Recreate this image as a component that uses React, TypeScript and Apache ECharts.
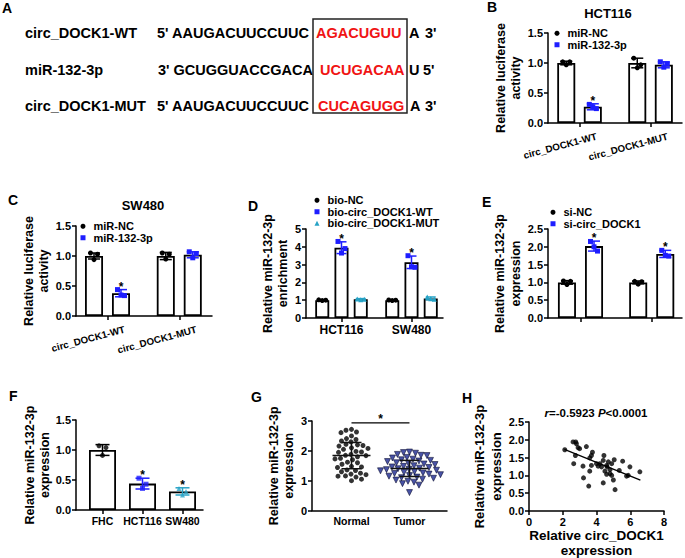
import React, { useEffect, useRef } from 'react';
import * as echarts from 'echarts';

const FONT = "Arial, 'Liberation Sans', Helvetica, sans-serif";
const BLACK = '#000000';
const BLUE = '#1e1eff';
const TEAL = '#27a3c6';
const NAVY = '#1c2890';
const RED = '#f01414';

// ---------- Panel A (sequence alignment) ----------
const A_ROWS = ['circ_DOCK1-WT', 'miR-132-3p', 'circ_DOCK1-MUT'];
const A_LEFT = ["5' AAUGACUUCCUUC", "3' GCUGGUACCGACA", "5' AAUGACUUCCUUC"];
const A_SITE = ['AGACUGUU', 'UCUGACAA', 'CUCAGUGG'];
const A_TAIL = ['A', 'U', 'A'];
const A_END = ["3'", "5'", "3'"];

// ---------- Panel B (HCT116 luciferase) ----------
const B_GROUPS = ['circ_DOCK1-WT', 'circ_DOCK1-MUT'];
const B_NC_MEAN = [1.0, 1.0];
const B_NC_SD = [0.03, 0.08];
const B_NC_PTS = [[1.02, 1.02, 0.97], [1.08, 0.97, 0.92]];
const B_MIR_MEAN = [0.27, 0.97];
const B_MIR_SD = [0.05, 0.05];
const B_MIR_PTS = [[0.31, 0.24, 0.27], [1.02, 0.98, 0.93]];
const B_MIR_SIG = [true, false];

// ---------- Panel C (SW480 luciferase) ----------
const C_NC_MEAN = [1.0, 1.0];
const C_NC_SD = [0.05, 0.06];
const C_NC_PTS = [[1.05, 1.03, 0.94], [1.05, 1.03, 0.95]];
const C_MIR_MEAN = [0.38, 1.02];
const C_MIR_SD = [0.06, 0.05];
const C_MIR_PTS = [[0.44, 0.34, 0.35], [1.07, 1.04, 0.97]];
const C_MIR_SIG = [true, false];

// ---------- Panel D (RNA pull-down) ----------
const D_GROUPS = ['HCT116', 'SW480'];
const D_NC_MEAN = [1.0, 1.0];
const D_NC_SD = [0.03, 0.03];
const D_NC_PTS = [[1.02, 1.0, 0.98], [1.01, 1.0, 0.98]];
const D_WT_MEAN = [3.95, 3.13];
const D_WT_SD = [0.33, 0.35];
const D_WT_PTS = [[4.3, 3.9, 3.65], [3.5, 2.85, 2.88]];
const D_WT_SIG = [true, true];
const D_MUT_MEAN = [1.05, 1.1];
const D_MUT_SD = [0.04, 0.08];
const D_MUT_PTS = [[1.07, 1.05, 1.03], [1.18, 1.05, 1.08]];

// ---------- Panel E (si-circ_DOCK1) ----------
const E_NC_MEAN = [1.0, 1.0];
const E_NC_SD = [0.05, 0.04];
const E_NC_PTS = [[1.04, 1.03, 0.94], [1.03, 1.02, 0.95]];
const E_SI_MEAN = [2.02, 1.8];
const E_SI_SD = [0.14, 0.1];
const E_SI_PTS = [[2.15, 1.88, 2.0], [1.9, 1.74, 1.76]];
const E_SI_SIG = [true, true];

// ---------- Panel F (cell lines) ----------
const F_GROUPS = ['FHC', 'HCT116', 'SW480'];
const F_MEAN = [1.0, 0.44, 0.31];
const F_SD = [0.09, 0.09, 0.06];
const F_PTS = [[1.07, 1.04, 0.91], [0.53, 0.43, 0.36], [0.36, 0.31, 0.25]];
const F_SIG = [false, true, true];

// ---------- Panel G (tissues) ----------
const G_GROUPS = ['Normal', 'Tumor'];
const G_NORMAL = [2.72, 2.69, 2.63, 2.61, 2.5, 2.41, 2.38, 2.33, 2.3, 2.22, 2.2, 2.18, 2.16, 2.1, 2.08,
  2.05, 1.98, 1.96, 1.95, 1.88, 1.85, 1.84, 1.8, 1.75, 1.73, 1.7, 1.62, 1.6, 1.55, 1.48, 1.46, 1.44,
  1.36, 1.34, 1.3, 1.25, 1.22, 1.2, 1.16, 1.15, 1.12, 1.05, 1.0];
const G_TUMOR = [1.96, 1.94, 1.92, 1.88, 1.85, 1.84, 1.78, 1.76, 1.72, 1.7, 1.68, 1.66, 1.64, 1.6, 1.58,
  1.56, 1.54, 1.5, 1.48, 1.46, 1.44, 1.42, 1.4, 1.38, 1.37, 1.35, 1.33, 1.3, 1.28, 1.26, 1.24, 1.22,
  1.2, 1.17, 1.15, 1.12, 1.1, 1.08, 1.05, 1.02, 0.98, 0.95, 0.9, 0.85, 0.6];
const G_MEAN = [1.84, 1.41];
const G_SD = [0.44, 0.27];
const G_SIG_Y = 2.94;

// ---------- Panel H (correlation) ----------
const H_X = [2.12, 2.61, 2.77, 2.81, 2.91, 3.0, 3.4, 2.65, 2.75, 3.76, 3.7, 3.6, 3.2, 3.23, 3.6, 3.54, 3.7,
  4.44, 4.2, 4.3, 4.4, 4.6, 4.63, 4.8, 4.9, 5.05, 4.5, 4.6, 4.8, 4.4, 5.0, 5.1, 5.35, 5.55, 5.88, 5.98,
  5.78, 6.57, 4.0, 4.1, 4.7, 4.9];
const H_Y = [1.72, 1.94, 1.94, 1.89, 1.78, 1.75, 1.81, 1.33, 1.56, 1.65, 1.56, 1.49, 1.26, 0.93, 1.12, 0.7,
  1.28, 1.56, 1.33, 1.24, 1.42, 1.28, 1.24, 1.16, 1.33, 1.44, 1.12, 1.03, 1.05, 0.79, 0.87, 0.6, 1.14,
  1.4, 1.0, 1.24, 0.98, 1.1, 1.33, 1.26, 1.38, 1.0];
const H_FIT_X = [2.1, 6.6];
const H_FIT_Y = [1.73, 0.87];

// ---------- layout ----------
const JIT = [-3.5, 3.5, 0];

type SDef = {
  name: string; color: string; symbol: string; size: number;
  mean: number[]; sd: number[]; pts: number[][]; sig?: boolean[];
};

const txtStyle = (text: string, size: number, color = BLACK, align = 'left', extra: any = {}) => ({
  text, fill: color, fontSize: size, fontWeight: 'bold', fontFamily: FONT,
  align, textAlign: align, verticalAlign: 'middle', textVerticalAlign: 'middle', ...extra,
});

const gtext = (x: number, y: number, text: string, size: number, color = BLACK, align = 'left', extra: any = {}) => ({
  type: 'text', x, y, silent: true, style: txtStyle(text, size, color, align, extra),
});

function errRender(color: string, cap: number) {
  return (params: any, api: any) => {
    const x = api.value(0), lo = api.value(1), hi = api.value(2), sig = api.value(3);
    const t = api.coord([x, hi]);
    const b = api.coord([x, lo]);
    const st = { stroke: color, lineWidth: 1.5 };
    const children: any[] = [
      { type: 'line', shape: { x1: t[0], y1: t[1], x2: b[0], y2: b[1] }, style: st },
      { type: 'line', shape: { x1: t[0] - cap, y1: t[1], x2: t[0] + cap, y2: t[1] }, style: st },
      { type: 'line', shape: { x1: b[0] - cap, y1: b[1], x2: b[0] + cap, y2: b[1] }, style: st },
    ];
    if (sig) children.push({ type: 'text', x: t[0], y: t[1] - 3, style: txtStyle('*', 12, BLACK, 'center') });
    return { type: 'group', children };
  };
}

function barPanel(ax: number, tag: string, defs: SDef[], step: number, barW: number, cap: number, ppu: number) {
  const n = defs.length;
  const xs = (g: number, s: number) => g + 1 + (s - (n - 1) / 2) * step;
  const barData: number[][] = [];
  defs.forEach((d, s) => d.mean.forEach((m, g) => barData.push([xs(g, s), m])));
  const series: any[] = [{
    type: 'bar', name: tag + '-bars', xAxisIndex: ax, yAxisIndex: ax, data: barData, barWidth: barW,
    itemStyle: { color: '#ffffff', borderColor: BLACK, borderWidth: 1.8 }, z: 1, silent: true,
  }];
  defs.forEach((d, s) => {
    const pts: number[][] = [];
    d.pts.forEach((arr, g) => arr.forEach((v, k) => pts.push([xs(g, s) + JIT[k] / ppu, v])));
    series.push({
      type: 'scatter', name: d.name, xAxisIndex: ax, yAxisIndex: ax, data: pts,
      symbol: d.symbol, symbolSize: d.size, itemStyle: { color: d.color, opacity: 1 }, z: 3, silent: true,
    });
    const err = d.mean.map((m, g) => [xs(g, s), m - d.sd[g], m + d.sd[g], d.sig && d.sig[g] ? 1 : 0]);
    series.push({
      type: 'custom', name: tag + '-err-' + s, xAxisIndex: ax, yAxisIndex: ax, data: err,
      encode: { x: 0, y: [1, 2] }, z: 4, silent: true, renderItem: errRender(d.color, cap),
    });
  });
  return series;
}

function swarm(vals: number[], pxPerY: number, diam: number): number[] {
  const order = vals.map((_, i) => i).sort((a, b) => vals[b] - vals[a]);
  const placed: { x: number; y: number }[] = [];
  const out = new Array(vals.length).fill(0);
  for (const i of order) {
    const y = vals[i] * pxPerY;
    let chosen = 0;
    for (let k = 0; k < 400; k++) {
      const cand = (k % 2 === 0 ? 1 : -1) * Math.ceil(k / 2) * 0.5;
      if (placed.every(p => (p.x - cand) ** 2 + (p.y - y) ** 2 >= diam * diam)) { chosen = cand; break; }
    }
    placed.push({ x: chosen, y });
    out[i] = chosen;
  }
  return out;
}

const axisText = { fontWeight: 'bold', color: BLACK, fontFamily: FONT };
const fmt1 = (v: number) => v.toFixed(1);
const fmt0 = (v: number) => String(Math.round(v));

function yAx(grid: number, min: number, max: number, interval: number, fmt: any, name: string, nameGap: number, nameSize: number, lineH: number) {
  return {
    type: 'value', gridIndex: grid, min, max, interval, name, nameLocation: 'middle', nameRotate: 90, nameGap,
    nameTextStyle: { ...axisText, fontSize: nameSize, lineHeight: lineH },
    axisLine: { show: true, lineStyle: { color: BLACK, width: 1.5 } },
    axisTick: { show: true, length: 4, lineStyle: { color: BLACK, width: 1.5 } },
    axisLabel: { show: true, ...axisText, fontSize: 11, margin: 5, formatter: fmt, hideOverlap: false },
    splitLine: { show: false },
  };
}

function xCat(grid: number, min: number, max: number, count: number, labels: string[] | null, lab: any, ticks = true, labShift = 0) {
  const vals = Array.from({ length: count }, (_, i) => i + 1);
  return {
    type: 'value', gridIndex: grid, min, max,
    axisLine: { show: true, onZero: false, lineStyle: { color: BLACK, width: 1.5 } },
    axisTick: { show: ticks, length: 4, customValues: vals, lineStyle: { color: BLACK, width: 1.5 } },
    axisLabel: labels ? {
      show: true, customValues: vals.map(v => v + labShift),
      formatter: (v: number) => labels[Math.round(v - labShift) - 1] ?? '',
      ...axisText, hideOverlap: false, ...lab,
    } : { show: false },
    splitLine: { show: false },
  };
}

function buildOption() {
  const grids = [
    { left: 548, top: 33, width: 134, height: 90 },   // B
    { left: 76, top: 226, width: 136, height: 90 },   // C
    { left: 306, top: 229, width: 137, height: 89 },  // D
    { left: 548, top: 229, width: 134, height: 89 },  // E
    { left: 76, top: 420, width: 127, height: 90 },   // F
    { left: 312, top: 421, width: 135, height: 89.5 },// G
    { left: 529, top: 422, width: 135, height: 89 },  // H
  ].map(g => ({ ...g, containLabel: false, outerBoundsMode: 'none' }));

  const rot = { rotate: 15, fontSize: 9.8, margin: 13 };
  const xAxis: any[] = [
    xCat(0, 0.556, 2.443, 2, B_GROUPS, rot, true, 0.24),
    xCat(1, 0.561, 2.456, 2, B_GROUPS, rot, true, 0.24),
    xCat(2, 0.493, 2.45, 2, D_GROUPS, { fontSize: 12, margin: 6 }),
    xCat(3, 0.544, 2.425, 2, null, {}),
    xCat(4, 0.3375, 3.5125, 3, F_GROUPS, { fontSize: 10.5, margin: 5 }),
    xCat(5, 0.319, 2.647, 2, G_GROUPS, { fontSize: 10.5, margin: 5 }, false),
    {
      type: 'value', gridIndex: 6, min: 0, max: 8, interval: 2,
      name: 'Relative circ_DOCK1\nexpression', nameLocation: 'middle', nameGap: 16,
      nameTextStyle: { ...axisText, fontSize: 13.5, lineHeight: 15 },
      axisLine: { show: true, onZero: false, lineStyle: { color: BLACK, width: 1.5 } },
      axisTick: { show: true, length: 4, lineStyle: { color: BLACK, width: 1.5 } },
      axisLabel: { show: true, ...axisText, fontSize: 11, margin: 5, formatter: fmt0 },
      splitLine: { show: false },
    },
  ];
  const yAxis: any[] = [
    yAx(0, 0, 1.5, 0.5, fmt1, 'Relative luciferase\nactivity', 17, 12.5, 15),
    yAx(1, 0, 1.5, 0.5, fmt1, 'Relative luciferase\nactivity', 18, 12.5, 15),
    yAx(2, 0, 5, 1, fmt0, 'Relative miR-132-3p\nenrichment', 7, 12.5, 15),
    yAx(3, 0, 2.5, 0.5, fmt1, 'Relative miR-132-3p\nexpression', 15.5, 12.5, 16),
    yAx(4, 0, 1.5, 0.5, fmt1, 'Relative miR-132-3p\nexpression', 17, 12.5, 14.5),
    yAx(5, 0, 3, 1, fmt0, 'Relative miR-132-3p\nexpression', 9.5, 12.5, 15),
    yAx(6, 0, 2.5, 0.5, fmt1, 'Relative miR-132-3p\nexpression', 13.5, 13, 17),
  ];

  const series: any[] = [];
  series.push(...barPanel(0, 'B', [
    { name: 'miR-NC', color: BLACK, symbol: 'circle', size: 5, mean: B_NC_MEAN, sd: B_NC_SD, pts: B_NC_PTS },
    { name: 'miR-132-3p', color: BLUE, symbol: 'rect', size: 5, mean: B_MIR_MEAN, sd: B_MIR_SD, pts: B_MIR_PTS, sig: B_MIR_SIG },
  ], 0.374, 18, 6, 71));
  series.push(...barPanel(1, 'C', [
    { name: 'miR-NC', color: BLACK, symbol: 'circle', size: 5, mean: C_NC_MEAN, sd: C_NC_SD, pts: C_NC_PTS },
    { name: 'miR-132-3p', color: BLUE, symbol: 'rect', size: 5, mean: C_MIR_MEAN, sd: C_MIR_SD, pts: C_MIR_PTS, sig: C_MIR_SIG },
  ], 0.376, 18, 6, 71.75));
  series.push(...barPanel(2, 'D', [
    { name: 'bio-NC', color: BLACK, symbol: 'circle', size: 5, mean: D_NC_MEAN, sd: D_NC_SD, pts: D_NC_PTS },
    { name: 'bio-circ_DOCK1-WT', color: BLUE, symbol: 'rect', size: 5, mean: D_WT_MEAN, sd: D_WT_SD, pts: D_WT_PTS, sig: D_WT_SIG },
    { name: 'bio-circ_DOCK1-MUT', color: TEAL, symbol: 'triangle', size: 5, mean: D_MUT_MEAN, sd: D_MUT_SD, pts: D_MUT_PTS },
  ], 0.275, 14, 5, 70));
  series.push(...barPanel(3, 'E', [
    { name: 'si-NC', color: BLACK, symbol: 'circle', size: 5, mean: E_NC_MEAN, sd: E_NC_SD, pts: E_NC_PTS },
    { name: 'si-circ_DOCK1', color: BLUE, symbol: 'rect', size: 5, mean: E_SI_MEAN, sd: E_SI_SD, pts: E_SI_PTS, sig: E_SI_SIG },
  ], 0.38, 18, 6, 71.25));

  // Panel F: one series per cell line, each at its own column
  const fColors = [BLACK, BLUE, TEAL];
  const fSymbols = ['circle', 'rect', 'triangle'];
  series.push({
    type: 'bar', name: 'F-bars', xAxisIndex: 4, yAxisIndex: 4, barWidth: 27,
    data: F_MEAN.map((m, i) => [i + 1, m]),
    itemStyle: { color: '#ffffff', borderColor: BLACK, borderWidth: 1.8 }, z: 1, silent: true,
  });
  F_GROUPS.forEach((g, i) => {
    series.push({
      type: 'scatter', name: 'F-' + g, xAxisIndex: 4, yAxisIndex: 4, symbol: fSymbols[i], symbolSize: 5,
      data: F_PTS[i].map((v, k) => [i + 1 + JIT[k] / 40, v]), itemStyle: { color: fColors[i] }, z: 3, silent: true,
    });
    series.push({
      type: 'custom', name: 'F-err-' + g, xAxisIndex: 4, yAxisIndex: 4, encode: { x: 0, y: [1, 2] },
      data: [[i + 1, F_MEAN[i] - F_SD[i], F_MEAN[i] + F_SD[i], F_SIG[i] ? 1 : 0]],
      renderItem: errRender(fColors[i], 7), z: 4, silent: true,
    });
  });

  // Panel G: column scatter with mean ± SD
  const gPpuX = 58, gPpuY = 29.8;
  const nOff = swarm(G_NORMAL, gPpuY, 5.5);
  const tOff = swarm(G_TUMOR, gPpuY, 5.8);
  series.push({
    type: 'scatter', name: 'G-Normal', xAxisIndex: 5, yAxisIndex: 5, symbol: 'circle', symbolSize: 5,
    data: G_NORMAL.map((v, i) => [1 + nOff[i] / gPpuX, v]), itemStyle: { color: BLACK }, z: 3, silent: true,
  });
  series.push({
    type: 'scatter', name: 'G-Tumor', xAxisIndex: 5, yAxisIndex: 5, symbol: 'triangle', symbolRotate: 180, symbolSize: 6,
    data: G_TUMOR.map((v, i) => [2 + tOff[i] / gPpuX, v]),
    itemStyle: { color: NAVY, borderColor: '#05082a', borderWidth: 0.7 }, z: 3, silent: true,
  });
  series.push({
    type: 'custom', name: 'G-stats', xAxisIndex: 5, yAxisIndex: 5, encode: { x: 0, y: 1 },
    data: G_MEAN.map((m, i) => [i + 1, m, G_SD[i]]), z: 5, silent: true,
    renderItem: (params: any, api: any) => {
      const x = api.value(0), m = api.value(1), sd = api.value(2);
      const c = api.coord([x, m]), hi = api.coord([x, m + sd]), lo = api.coord([x, m - sd]);
      const st = { stroke: '#111', lineWidth: 1.5 };
      return {
        type: 'group', children: [
          { type: 'line', shape: { x1: c[0] - 19, y1: c[1], x2: c[0] + 19, y2: c[1] }, style: st },
          { type: 'line', shape: { x1: hi[0], y1: hi[1], x2: lo[0], y2: lo[1] }, style: st },
          { type: 'line', shape: { x1: hi[0] - 10, y1: hi[1], x2: hi[0] + 10, y2: hi[1] }, style: st },
          { type: 'line', shape: { x1: lo[0] - 10, y1: lo[1], x2: lo[0] + 10, y2: lo[1] }, style: st },
        ],
      };
    },
  });
  series.push({
    type: 'custom', name: 'G-sig', xAxisIndex: 5, yAxisIndex: 5, encode: { x: [0, 1], y: 2 },
    data: [[1, 2, G_SIG_Y]], z: 5, silent: true,
    renderItem: (params: any, api: any) => {
      const a = api.coord([api.value(0), api.value(2)]);
      const b = api.coord([api.value(1), api.value(2)]);
      return {
        type: 'group', children: [
          { type: 'line', shape: { x1: a[0], y1: a[1], x2: b[0], y2: b[1] }, style: { stroke: BLACK, lineWidth: 1.3 } },
          { type: 'text', x: (a[0] + b[0]) / 2, y: a[1] - 4, style: txtStyle('*', 12, BLACK, 'center') },
        ],
      };
    },
  });

  // Panel H
  series.push({
    type: 'scatter', name: 'H-points', xAxisIndex: 6, yAxisIndex: 6, symbol: 'circle', symbolSize: 5,
    data: H_X.map((x, i) => [x, H_Y[i]]), itemStyle: { color: BLACK }, z: 3, silent: true,
  });
  series.push({
    type: 'line', name: 'H-fit', xAxisIndex: 6, yAxisIndex: 6, symbol: 'none',
    data: H_FIT_X.map((x, i) => [x, H_FIT_Y[i]]), lineStyle: { color: BLACK, width: 1.3 }, z: 4, silent: true,
  });

  const legendBase = {
    orient: 'vertical', itemWidth: 5, itemHeight: 5, itemGap: 0, padding: 0, selectedMode: false,
    textStyle: { ...axisText, fontSize: 11, lineHeight: 11.5, padding: [0, 0, 0, 3] },
  };
  const icons: Record<string, string> = {
    'miR-NC': 'circle', 'miR-132-3p': 'rect', 'bio-NC': 'circle', 'bio-circ_DOCK1-WT': 'rect',
    'bio-circ_DOCK1-MUT': 'triangle', 'si-NC': 'circle', 'si-circ_DOCK1': 'rect',
  };
  const items = (names: string[]) => names.map(n => ({ name: n, icon: icons[n] }));
  const legend = [
    { ...legendBase, data: items(['miR-NC', 'miR-132-3p']), left: 554.5, top: 27.5 },
    { ...legendBase, data: items(['miR-NC', 'miR-132-3p']), left: 80.5, top: 220.5 },
    { ...legendBase, data: items(['bio-NC', 'bio-circ_DOCK1-WT', 'bio-circ_DOCK1-MUT']), left: 314.5, top: 194.5 },
    { ...legendBase, data: items(['si-NC', 'si-circ_DOCK1']), left: 550.5, top: 206.5 },
  ];

  // Graphic: panel A, panel letters, titles
  const aY = [33, 70, 106];
  const aLeftX = [157, 158, 157];
  const aSiteX = [316, 320, 318];
  const aTailX = [409, 409, 410];
  const aEndX = [425, 423, 425];
  const g: any[] = [];
  A_ROWS.forEach((r, i) => {
    g.push(gtext(25, aY[i], r, 14.5));
    g.push(gtext(aLeftX[i], aY[i], A_LEFT[i], 14.5));
    g.push(gtext(aSiteX[i], aY[i], A_SITE[i], 14.5, RED));
    g.push(gtext(aTailX[i], aY[i], A_TAIL[i], 14.5));
    g.push(gtext(aEndX[i], aY[i], A_END[i], 14.5));
  });
  g.push({ type: 'rect', silent: true, shape: { x: 313, y: 19, width: 94, height: 94 }, style: { fill: 'none', stroke: '#222', lineWidth: 1.5 } });
  const letters: [string, number, number][] = [
    ['A', 2, 8], ['B', 487, 7], ['C', 8, 200], ['D', 248, 206], ['E', 482, 202], ['F', 9, 396], ['G', 251, 397], ['H', 462, 398],
  ];
  letters.forEach(([t, x, y]) => g.push(gtext(x, y, t, 14)));
  g.push(gtext(608, 13, 'HCT116', 13, BLACK, 'center'));
  g.push(gtext(143, 205, 'SW480', 13, BLACK, 'center'));
  g.push(gtext(596, 413, '{i|r}=-0.5923 {i|P}<0.0001', 11.5, BLACK, 'center', {
    rich: { i: { fontStyle: 'italic', fontWeight: 'bold', fontSize: 11.5, fontFamily: FONT, fill: BLACK, color: BLACK } },
  }));

  return {
    animation: false,
    backgroundColor: '#ffffff',
    textStyle: { fontFamily: FONT },
    grid: grids,
    xAxis,
    yAxis,
    legend,
    series,
    graphic: { elements: g },
  };
}

export default function App() {
  const ref = useRef<HTMLDivElement>(null);
  useEffect(() => {
    if (!ref.current) return;
    const chart = echarts.init(ref.current, undefined, { renderer: 'svg' });
    chart.setOption(buildOption() as any);
    return () => chart.dispose();
  }, []);
  return (
    <div
      ref={ref}
      style={{ position: 'absolute', left: 0, top: 0, width: '685px', height: '558px', background: '#fff' }}
    />
  );
}
